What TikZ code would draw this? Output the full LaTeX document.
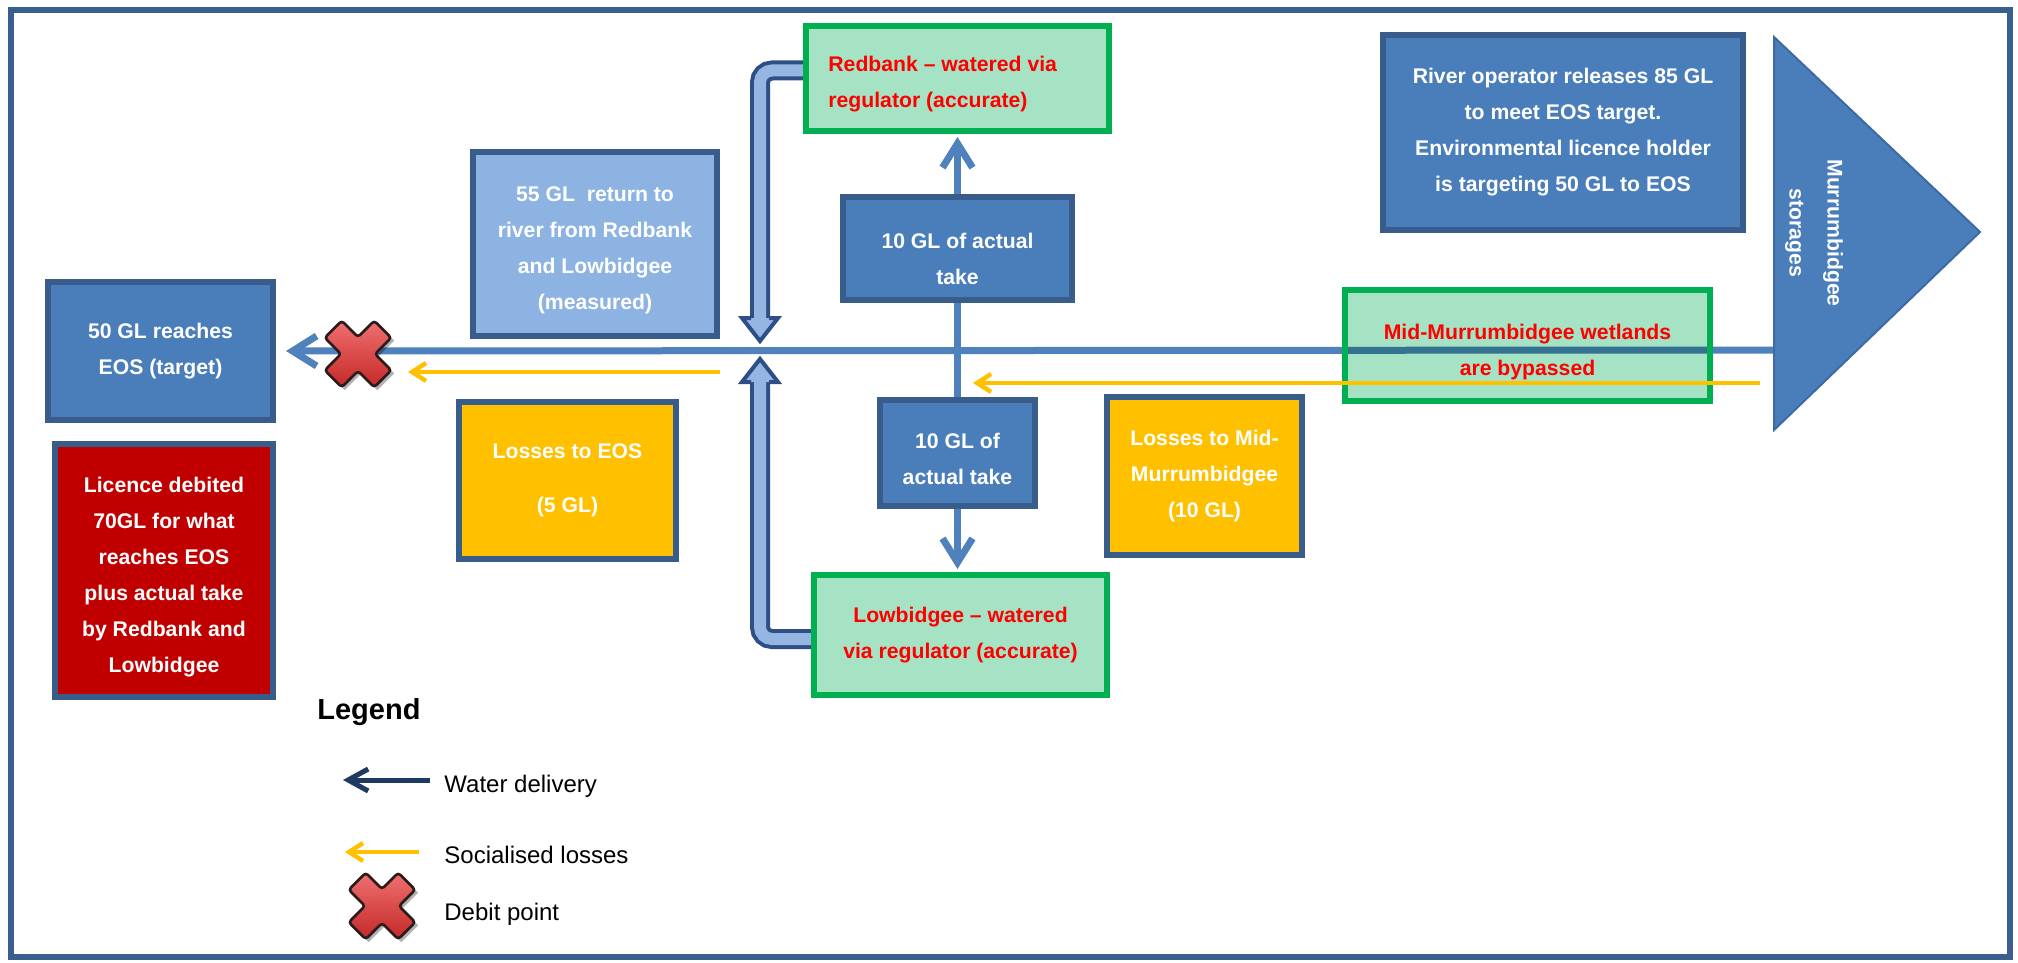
\documentclass[tikz,border=0pt]{standalone}
\usepackage{fontspec}
\setmainfont{Liberation Sans}
\usetikzlibrary{arrows.meta,calc}
\pgfdeclarelayer{bg}
\pgfdeclarelayer{tint}
\pgfsetlayers{bg,tint,main}

\definecolor{boxfill}{HTML}{4A7EBB}
\definecolor{boxedge}{HTML}{385D8A}
\definecolor{retfill}{HTML}{8DB3E2}
\definecolor{lossfill}{HTML}{FFC000}
\definecolor{debitfill}{HTML}{C00000}
\definecolor{greenfill}{HTML}{A6E2C4}
\definecolor{greenedge}{HTML}{00B050}
\definecolor{redtext}{HTML}{FF0000}
\definecolor{framecol}{HTML}{3A5E8E}
\definecolor{riverblue}{HTML}{4F81BD}
\definecolor{pipefill}{HTML}{95B5E3}
\definecolor{pipeedge}{HTML}{2E4F86}
\definecolor{navy}{HTML}{1F3A60}
\definecolor{trifill}{HTML}{4A7EBB}
\definecolor{triedge}{HTML}{3D6AA5}
\definecolor{crosshi}{HTML}{F07070}
\definecolor{crosslo}{HTML}{C42828}
\definecolor{crossedge}{HTML}{2B1B1B}

% invisible strut that pushes a box's text down by #1 px
\newcommand\lowerby[1]{\rule{0pt}{\dimexpr 7.7pt+#1pt\relax}}

\tikzset{
  debitx/.pic={
    \fill[black, opacity=0.3, xshift=1.5pt, yshift=-1.5pt, rotate=45]
      (-35,-12) -- (-12,-12) -- (-12,-35) -- (12,-35) -- (12,-12) -- (35,-12)
      -- (35,12) -- (12,12) -- (12,35) -- (-12,35) -- (-12,12) -- (-35,12) -- cycle;
    \draw[crossedge, line width=1.3pt, rotate=45, top color=crosshi, bottom color=crosslo,
          rounded corners=1.5pt]
      (-35,-12) -- (-12,-12) -- (-12,-35) -- (12,-35) -- (12,-12) -- (35,-12)
      -- (35,12) -- (12,12) -- (12,35) -- (-12,35) -- (-12,12) -- (-35,12) -- cycle;
  }
}

\begin{document}
\begin{tikzpicture}[x=0.5pt, y=-0.5pt,
  every node/.style={inner sep=0pt},
  txt/.style={font=\bfseries\fontsize{10.6}{18}\selectfont, align=center},
  dbox/.style={txt, draw=boxedge, line width=3pt, fill=boxfill, text=white},
  lbox/.style={dbox, fill=retfill},
  ybox/.style={dbox, fill=lossfill},
  rbox/.style={dbox, fill=debitfill},
  gbox/.style={txt, draw=greenedge, line width=3pt, fill=greenfill, text=redtext},
  redlbl/.style={txt, text=redtext, align=left},
  river/.style={draw=riverblue, line width=3.5pt},
  flowtip/.style={-{Straight Barb[length=12pt,width=15pt]}},
  losses/.style={draw=lossfill, line width=2.2pt, -{Straight Barb[length=7pt,width=9pt]}},
  pipe/.style={draw=pipeedge, line width=2pt, double=pipefill, double distance=6pt, rounded corners=6pt},
  pipehead/.style={draw=pipeedge, line width=2pt, line join=miter},
  legendtxt/.style={font=\fontsize{12}{14}\selectfont, anchor=west},
  frame/.style={draw=framecol, line width=3pt}
]
\useasboundingbox (0,0) rectangle (2018,963);
\begin{pgfonlayer}{bg}
  \fill[white] (0,0) rectangle (2018,963);
\end{pgfonlayer}
\draw[frame] (11,10) rectangle (2010,957);

% boxes
\node[dbox, minimum width=112.5pt, minimum height=69pt] (eos) at (160.5,351) {50 GL reaches\\EOS (target)};
\node[rbox, minimum width=109pt, minimum height=126.5pt] (licence) at (164,570.5)
  {\lowerby{7}Licence debited\\70GL for what\\reaches EOS\\plus actual take\\by Redbank and\\Lowbidgee};
\node[lbox, minimum width=122pt, minimum height=92pt] (ret) at (595,244)
  {\lowerby{6}55 GL~ return to\\river from Redbank\\and Lowbidgee\\(measured)};
\node[ybox, minimum width=108.5pt, minimum height=78.5pt] (losseos) at (567.5,480.5)
  {Losses to EOS\\[9pt](5 GL)};
\node[dbox, minimum width=114.5pt, minimum height=51.5pt] (take1) at (957.5,248.5)
  {\lowerby{10}10 GL of actual\\take};
\node[dbox, minimum width=77.5pt, minimum height=53pt] (take2) at (957.5,453)
  {\lowerby{6}10 GL of\\actual take};
\node[gbox, minimum width=151.5pt, minimum height=52.5pt] (redbank) at (957.5,78.5) {};
\node[redlbl, anchor=west] (redbanktxt) at (828,84) {Redbank – watered via\\regulator (accurate)};
\node[gbox, minimum width=146.5pt, minimum height=60pt] (lowbidgee) at (960.5,635)
  {Lowbidgee – watered\\via regulator (accurate)};
\node[ybox, minimum width=97.5pt, minimum height=79pt] (lossmid) at (1204.5,476)
  {Losses to Mid-\\Murrumbidgee\\(10 GL)};
\node[dbox, minimum width=180pt, minimum height=97.5pt] (operator) at (1563,132.5)
  {River operator releases 85 GL\\to meet EOS target.\\Environmental licence holder\\is targeting 50 GL to EOS};
\node[gbox, fill=none, minimum width=182.5pt, minimum height=55.5pt] (mid) at (1527.5,345.5)
  {\lowerby{6}Mid-Murrumbidgee wetlands\\are bypassed};
\begin{pgfonlayer}{tint}
  \fill[greenfill, blend mode=multiply] (mid.south west) rectangle (mid.north east);
\end{pgfonlayer}

% storages arrow
\path[fill=trifill, draw=triedge, line width=1pt] (1774,37) -- (1980,232) -- (1774,430) -- cycle;
\node[font=\bfseries\fontsize{10.6}{19}\selectfont, align=center, text=white, rotate=-90]
  (storages) at (1814,233) {Murrumbidgee\\storages};
\coordinate (src) at (1774,350);

% river and offtakes
\begin{pgfonlayer}{bg}
  \draw[river, flowtip] (src) -- ([xshift=5pt]eos.east);
  \draw[river] (take2.north) -- (take1.south);
  % return flows
  \draw[pipe] ([yshift=4pt]redbank.west) -| (760,318);
  \coordinate (uptip) at (760,341);
  \fill[pipefill] (742,318) -- (uptip) -- (778,318) -- cycle;
  \draw[pipehead] (751,318) -- (742,318) -- (uptip) -- (778,318) -- (769,318);
  \draw[pipe] ([yshift=-2pt]lowbidgee.west) -| (760,382);
  \coordinate (lowtip) at (760,359);
  \fill[pipefill] (742,382) -- (lowtip) -- (778,382) -- cycle;
  \draw[pipehead] (751,382) -- (742,382) -- (lowtip) -- (778,382) -- (769,382);
\end{pgfonlayer}
\draw[river, flowtip] (take1.north) -- ([yshift=-1.5pt]redbank.south);
\draw[river, flowtip] (take2.south) -- ($(take2.south |- lowbidgee.north)+(0,-3)$);

% socialised losses
\coordinate (l1a) at (720,372);
\coordinate (l1b) at (408,372);
\draw[losses] (l1a) -- (l1b);
\coordinate (l2a) at (1760,383);
\coordinate (l2b) at (973,383);
\draw[losses] (l2a) -- (l2b);

% debit point
\pic at (358,354) {debitx};

% legend
\node[legendtxt, font=\bfseries\fontsize{14.5}{16}\selectfont] (legend) at (317,712) {Legend};
\node[legendtxt] (wd) at (444,786) {Water delivery};
\node[legendtxt] (sl) at (444,855) {Socialised losses};
\node[legendtxt] (dp) at (444,914) {Debit point};
\coordinate (wda) at (430,780);
\coordinate (wdb) at (343,780);
\draw[navy, line width=2.5pt, -{Straight Barb[length=10pt,width=11pt]}] (wda) -- (wdb);
\coordinate (sla) at (419,852);
\coordinate (slb) at (345,852);
\draw[losses] (sla) -- (slb);
\pic at (382,906) {debitx};
\end{tikzpicture}
\end{document}
